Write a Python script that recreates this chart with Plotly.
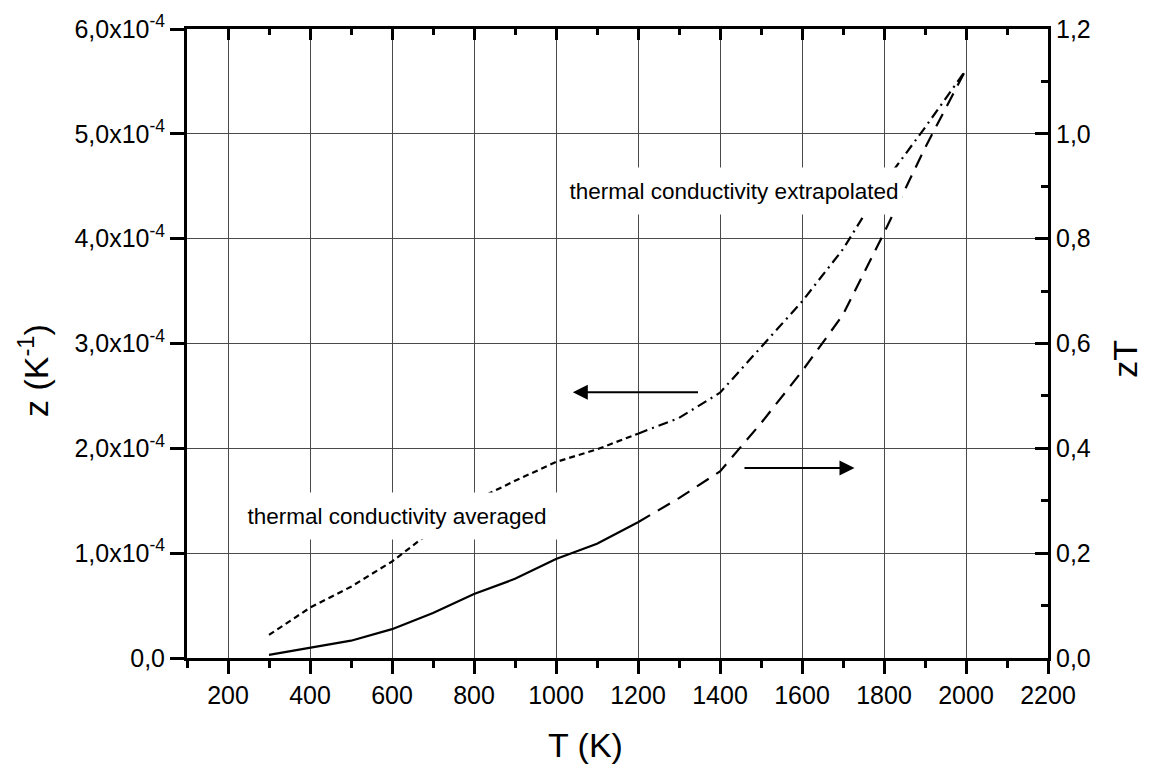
import plotly.graph_objects as go

# Temperature grid (K)
T_avg = [300, 400, 500, 600, 700, 800, 900, 1000, 1100, 1200]
T_ext = [1200, 1300, 1400, 1500, 1600, 1700, 1800, 1900, 2000]

# Figure of merit z (units of 1e-4 K^-1)
z_avg = [0.22, 0.48, 0.68, 0.92, 1.22, 1.50, 1.69, 1.87, 1.99, 2.14]
z_ext = [2.14, 2.29, 2.53, 2.97, 3.40, 3.90, 4.53, 5.06, 5.61]

# Dimensionless figure of merit zT
zT_avg = [0.006, 0.019, 0.033, 0.055, 0.086, 0.122, 0.151, 0.189, 0.218, 0.259]
zT_ext = [0.259, 0.305, 0.356, 0.448, 0.547, 0.655, 0.811, 0.973, 1.123]

z_ticks = [0, 1, 2, 3, 4, 5, 6]
z_ticktext = ["0,0"] + [f"{v},0x10<sup>-4</sup>" for v in z_ticks[1:]]
zT_ticks = [0.0, 0.2, 0.4, 0.6, 0.8, 1.0, 1.2]
zT_ticktext = ["0,0", "0,2", "0,4", "0,6", "0,8", "1,0", "1,2"]

FONT = "Liberation Sans, Arial, sans-serif"
LW = 2.2
TICK_SIZE = 25
TITLE_SIZE = 34

def scale(vals):
    return [v * 1e-4 for v in vals]

fig = go.Figure()

fig.add_trace(go.Scatter(x=T_avg, y=scale(z_avg), mode="lines",
                         line=dict(color="black", width=LW, dash="6px,4px"),
                         xaxis="x", yaxis="y", showlegend=False))
fig.add_trace(go.Scatter(x=T_ext, y=scale(z_ext), mode="lines",
                         line=dict(color="black", width=LW, dash="10px,5px,2px,5px"),
                         xaxis="x", yaxis="y", showlegend=False))
fig.add_trace(go.Scatter(x=T_avg, y=zT_avg, mode="lines",
                         line=dict(color="black", width=LW),
                         xaxis="x", yaxis="y2", showlegend=False))
fig.add_trace(go.Scatter(x=T_ext, y=zT_ext, mode="lines",
                         line=dict(color="black", width=LW, dash="14px,9px"),
                         xaxis="x", yaxis="y2", showlegend=False))
# empty trace so the top frame axis is rendered
fig.add_trace(go.Scatter(x=[None], y=[None], xaxis="x2", yaxis="y",
                         showlegend=False, hoverinfo="skip"))

x_range = [100, 2200]
grid_col = "#4a4a4a"

fig.update_layout(
    width=1160, height=773,
    margin=dict(l=187, r=112, t=29, b=115),
    paper_bgcolor="white", plot_bgcolor="white",
    font=dict(family=FONT, size=TICK_SIZE, color="black"),
    xaxis=dict(
        range=x_range, tickmode="linear", tick0=200, dtick=200,
        ticks="outside", ticklen=13, tickwidth=3, tickcolor="black",
        minor=dict(dtick=100, tick0=100, ticks="outside", ticklen=7,
                   tickwidth=3, tickcolor="black", showgrid=False),
        showline=True, linewidth=3, linecolor="black",
        showgrid=True, gridcolor=grid_col, gridwidth=1,
        zeroline=False, tickfont=dict(size=TICK_SIZE),
    ),
    xaxis2=dict(
        range=x_range, overlaying="x", side="top", anchor="y",
        tickmode="linear", tick0=200, dtick=200,
        ticks="inside", ticklen=11, tickwidth=3, tickcolor="black",
        minor=dict(dtick=100, tick0=100, ticks="inside", ticklen=6,
                   tickwidth=3, tickcolor="black", showgrid=False),
        showticklabels=False, showline=True, linewidth=3, linecolor="black",
        showgrid=False, zeroline=False,
    ),
    yaxis=dict(
        range=[0, 6e-4], tickmode="array",
        tickvals=scale(z_ticks), ticktext=z_ticktext,
        ticks="outside", ticklen=14, tickwidth=3, tickcolor="black",
        showline=True, linewidth=3, linecolor="black",
        showgrid=True, gridcolor=grid_col, gridwidth=1,
        zeroline=False, tickfont=dict(size=TICK_SIZE),
    ),
    yaxis2=dict(
        range=[0, 1.2], overlaying="y", side="right", anchor="x",
        tickmode="array", tickvals=zT_ticks, ticktext=zT_ticktext,
        ticks="inside", ticklen=13, tickwidth=3, tickcolor="black",
        minor=dict(dtick=0.1, tick0=0, ticks="inside", ticklen=7,
                   tickwidth=3, tickcolor="black", showgrid=False),
        showline=True, linewidth=3, linecolor="black",
        showgrid=False, zeroline=False, tickfont=dict(size=TICK_SIZE),
    ),
)

annotations = [
    # axis titles
    dict(text="T (K)", xref="paper", yref="paper", x=0.4634, y=-0.138,
         showarrow=False, font=dict(size=TITLE_SIZE), xanchor="center", yanchor="middle"),
    dict(text="z (K<sup>-1</sup>)", xref="paper", yref="paper", x=-0.1784, y=0.4568,
         showarrow=False, font=dict(size=TITLE_SIZE), textangle=-90,
         xanchor="center", yanchor="middle"),
    dict(text="zT", xref="paper", yref="paper", x=1.0896, y=0.4758,
         showarrow=False, font=dict(size=TITLE_SIZE), textangle=-90,
         xanchor="center", yanchor="middle"),
    # curve labels
    dict(text="thermal conductivity averaged", xref="x", yref="y",
         x=611, y=1.351e-4, showarrow=False, font=dict(size=22.5),
         bgcolor="white", width=324, height=44, borderpad=1),
    dict(text="thermal conductivity extrapolated", xref="x", yref="y",
         x=1434, y=4.452e-4, showarrow=False, font=dict(size=22.5),
         bgcolor="white", width=334, height=44, borderpad=1),
    # arrows pointing to the relevant axis
    dict(text="", xref="x", yref="y", x=1041, y=2.534e-4,
         axref="x", ayref="y", ax=1350, ay=2.534e-4,
         showarrow=True, arrowhead=2, arrowsize=1.5, arrowwidth=2, arrowcolor="black"),
    dict(text="", xref="x", yref="y2", x=1728, y=0.3626,
         axref="x", ayref="y2", ax=1456, ay=0.3626,
         showarrow=True, arrowhead=2, arrowsize=1.5, arrowwidth=2, arrowcolor="black"),
]
fig.update_layout(annotations=annotations)

fig.write_html("out.html")
